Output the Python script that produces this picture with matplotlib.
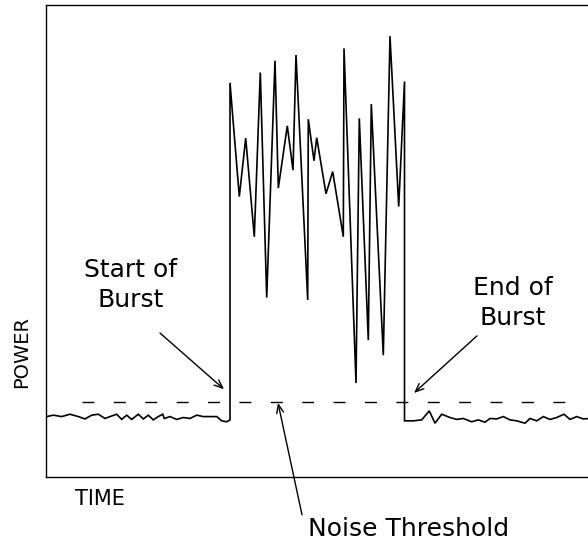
import matplotlib
matplotlib.use("Agg")
import matplotlib.pyplot as plt

# ---- data (time units, power units) ----
pre_t = [0.7, 7.3, 15.7, 24, 32.3, 39, 45.7, 52.3, 59, 64, 70.7, 75.7, 80.7, 85.7,
         92.3, 97.3, 102.3, 107.3, 112.3, 116.7, 118.3, 124, 130.7, 137.3, 144,
         150.7, 157.3, 164, 170.7, 175.7, 180.7, 184]
pre_p = [12.8, 13.1, 12.8, 13.3, 12.8, 12.3, 13.1, 13.3, 12.4, 12.8, 13.3, 12.2, 13.1,
         12.2, 13.3, 12.3, 13.1, 12.1, 12.8, 13.3, 12.4, 12.8, 12.2, 12.6, 12.4,
         13.1, 12.8, 12.8, 12.8, 11.9, 11.7, 12.1]

burst_t = [184, 193.3, 199.7, 208.3, 214.3, 220.7, 229, 232.3, 241.3, 247, 250,
           261.7, 262.3, 268, 270.7, 280, 286.7, 297.3, 298, 310, 313.3, 322.3,
           325.3, 337.3, 344, 352.7, 358.5]
burst_p = [83.5, 59.4, 71.8, 50.9, 85.7, 38.0, 88.2, 61.2, 74.4, 65.0, 89.4,
           37.5, 75.8, 67.0, 71.9, 60.0, 64.7, 50.9, 90.8, 19.9, 76.0, 29.0,
           79.0, 25.8, 93.4, 57.3, 83.8]

post_t = [358.5, 367.3, 375.7, 383.3, 389, 395.7, 404, 410.7, 417.3, 425.7, 432.3,
          439, 444, 450.7, 457.3, 464, 470.7, 479, 484, 490.7, 497.3, 504, 510.7,
          518, 524, 530.7, 537.3, 543.3]
post_p = [11.9, 11.9, 12.1, 14.0, 11.4, 13.3, 12.6, 12.2, 12.4, 11.7, 12.1,
          11.6, 12.4, 12.3, 12.8, 12.1, 11.9, 11.4, 12.4, 11.9, 12.8, 12.2, 12.6,
          13.3, 12.2, 12.8, 12.3, 12.4]

threshold = 15.9
threshold_span = [35.7, 519]

fig = plt.figure(figsize=(5.88, 5.40), dpi=100)
ax = fig.add_axes([46 / 588, 63 / 540, 554 / 588, 472 / 540])

sig_t = pre_t + burst_t + post_t
sig_p = pre_p + burst_p + post_p
ax.plot(sig_t, sig_p, color="black", lw=1.2, solid_joinstyle="miter")

ax.plot(threshold_span, [threshold, threshold], color="black", lw=1.0,
        dashes=(8.6, 14.0))

ax.set_xlim(0, 554)
ax.set_ylim(0, 100)
ax.set_xticks([])
ax.set_yticks([])
ax.spines["right"].set_visible(False)
for s in ["left", "top", "bottom"]:
    ax.spines[s].set_linewidth(1.0)

arrow = dict(arrowstyle="->,head_length=0.6,head_width=0.25", color="black",
             lw=1.0, shrinkA=0, shrinkB=0)
ax.annotate("", xy=(178, 18.6), xytext=(114, 30.5), arrowprops=arrow)
ax.annotate("", xy=(368, 17.8), xytext=(431, 29.9), arrowprops=arrow)
ax.annotate("", xy=(232, 15.7), xytext=(256, -8.0), arrowprops=arrow,
            annotation_clip=False)

fs = 18
ax.text(85, 40.7, "Start of\nBurst", ha="center", va="center", fontsize=fs,
        linespacing=1.3)
ax.text(467, 36.8, "End of\nBurst", ha="center", va="center", fontsize=fs,
        linespacing=1.3)

fig.text(408.5 / 588, 4 / 540, "Noise Threshold", ha="center", va="baseline",
         fontsize=fs)
fig.text(100 / 588, 35 / 540, "TIME", ha="center", va="baseline", fontsize=15)
fig.text(22 / 588, (540 - 352) / 540, "POWER", ha="center", va="center",
         rotation=90, fontsize=14)

fig.savefig("out.png", dpi=100)
